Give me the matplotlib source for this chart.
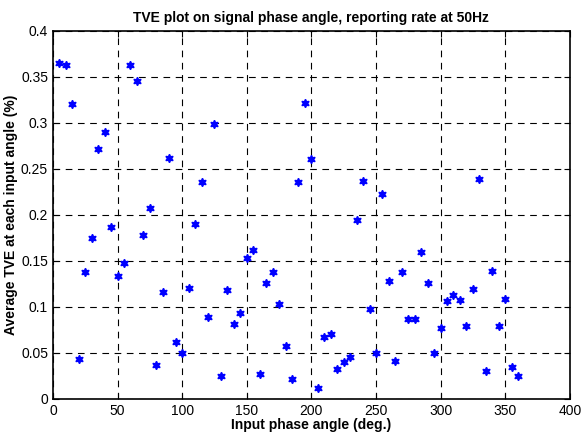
import numpy as np
import matplotlib.pyplot as plt

plt.rcParams['font.family'] = ['Liberation Sans', 'DejaVu Sans']

# Input phase angle (deg.)
angle = np.arange(5, 365, 5)

# Average TVE at each input angle (%)
tve = [0.365, 0.363, 0.320, 0.043, 0.138, 0.175, 0.271, 0.290, 0.187, 0.133,
       0.148, 0.363, 0.345, 0.178, 0.207, 0.037, 0.116, 0.262, 0.062, 0.050,
       0.120, 0.190, 0.235, 0.089, 0.298, 0.025, 0.118, 0.081, 0.093, 0.153,
       0.162, 0.027, 0.126, 0.138, 0.103, 0.057, 0.022, 0.236, 0.321, 0.261,
       0.012, 0.067, 0.071, 0.033, 0.040, 0.045, 0.194, 0.237, 0.098, 0.050,
       0.222, 0.128, 0.041, 0.138, 0.087, 0.087, 0.160, 0.126, 0.050, 0.077,
       0.106, 0.113, 0.107, 0.079, 0.119, 0.239, 0.030, 0.139, 0.079, 0.109,
       0.035, 0.025]

xticks = np.arange(0, 401, 50)
yticks = [0, 0.05, 0.1, 0.15, 0.2, 0.25, 0.3, 0.35, 0.4]
ytick_labels = ['0', '0.05', '0.1', '0.15', '0.2', '0.25', '0.3', '0.35', '0.4']

fig = plt.figure(figsize=(5.82, 4.36), dpi=100)
ax = fig.add_axes([0.091, 0.085, 0.888, 0.845])

ax.plot(angle, tve, linestyle='none', marker=(6, 1, 0), markersize=6,
        color='blue', markeredgecolor='blue')

ax.set_xlim(0, 400)
ax.set_ylim(0, 0.4)
ax.set_xticks(xticks)
ax.set_yticks(yticks)
ax.set_yticklabels(ytick_labels)
ax.tick_params(direction='in', top=True, right=True, labelsize=10, length=4)
ax.grid(True, color='black', linestyle=(0, (6, 5)), linewidth=0.8)
for s in ax.spines.values():
    s.set_linewidth(1.2)

ax.set_title('TVE plot on signal phase angle, reporting rate at 50Hz',
             fontsize=10, fontweight='bold', pad=6)
ax.set_xlabel('Input phase angle (deg.)', fontsize=10, fontweight='bold', labelpad=0)
ax.set_ylabel('Average TVE at each input angle (%)', fontsize=10, fontweight='bold', labelpad=2)

fig.savefig('out.png', dpi=100)
